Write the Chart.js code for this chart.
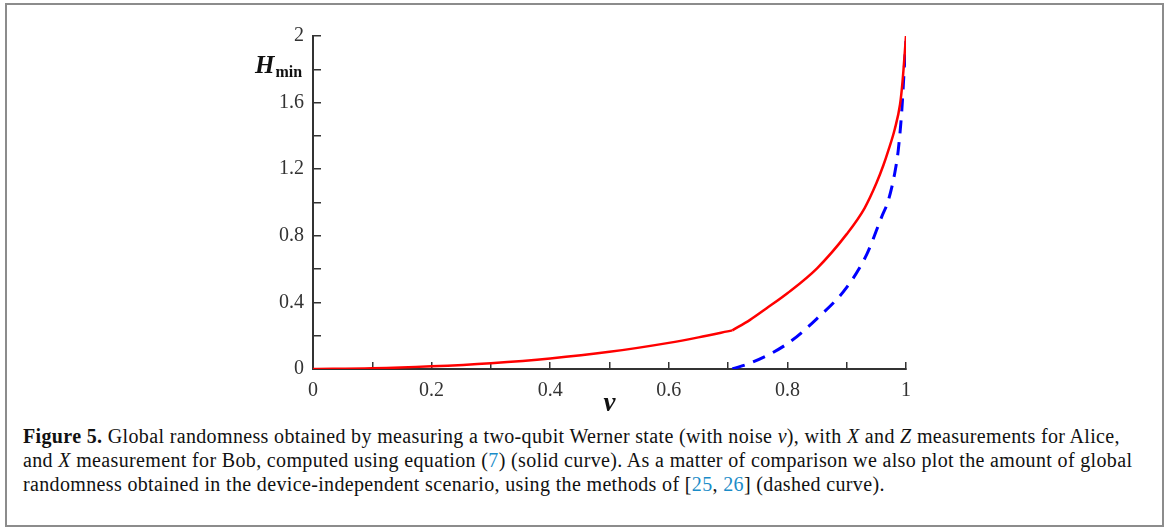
<!DOCTYPE html>
<html>
<head>
<meta charset="utf-8">
<script src="https://cdn.jsdelivr.net/npm/chart.js@4.4.1/dist/chart.umd.min.js"></script>
<style>
  html, body { margin: 0; padding: 0; background: #fff; }
  body { width: 1168px; height: 528px; position: relative; overflow: hidden; }
  #frame { position: absolute; left: 5px; top: 3px; width: 1155px; height: 520px; border: 2px solid #8c8c8c; }
  #wrap { position: absolute; left: 0; top: 0; width: 1168px; height: 420px; }
  #caption { position: absolute; left: 23px; top: 424px; font-family: "Liberation Serif", serif; font-size: 20px; letter-spacing: 0.35px; line-height: 24px; color: #111; white-space: nowrap; }
  #caption b { font-weight: bold; }
  #caption i { font-style: italic; }
  #caption .ref { color: #1a8cc8; }
</style>
</head>
<body>
<div id="frame"></div>
<div id="wrap"><canvas id="c" width="1168" height="420"></canvas></div>
<div id="caption">
<b>Figure 5.</b> Global randomness obtained by measuring a two-qubit Werner state (with noise <i>v</i>), with <i>X</i> and <i>Z</i> measurements for Alice,<br>
and <i>X</i> measurement for Bob, computed using equation (<span class="ref">7</span>) (solid curve). As a matter of comparison we also plot the amount of global<br>
randomness obtained in the device-independent scenario, using the methods of [<span class="ref">25</span>, <span class="ref">26</span>] (dashed curve).
</div>
<script>
// ---- data ----
// solid curve, below the kink at v = 1/sqrt(2)
const vSolidLow = [0, 0.1, 0.2, 0.3, 0.4, 0.5, 0.6, 0.65, 0.7071];
const hSolidLow = [0, 0.004, 0.016, 0.035, 0.063, 0.103, 0.157, 0.19, 0.232];
// solid curve, above the kink
const vSolidHigh = [0.7071, 0.737, 0.765, 0.8, 0.85, 0.9, 0.93, 0.95, 0.962, 0.97, 0.981, 0.99, 0.994, 1];
const hSolidHigh = [0.232, 0.295, 0.365, 0.455, 0.605, 0.81, 0.965, 1.115, 1.225, 1.31, 1.44, 1.59, 1.72, 2.0];
// dashed curve
const vDashed = [0.7071, 0.737, 0.8, 0.849, 0.9, 0.934, 0.959, 0.97, 0.981, 0.987, 0.993, 0.997, 1];
const hDashed = [0, 0.035, 0.152, 0.30, 0.49, 0.69, 0.914, 1.01, 1.176, 1.316, 1.557, 1.80, 1.97];
const xTickLabels = { 0: '0', 2: '0.2', 4: '0.4', 6: '0.6', 8: '0.8', 10: '1' };
const yTickLabels = { 0: '0', 4: '0.4', 8: '0.8', 12: '1.2', 16: '1.6', 20: '2' };

const toPts = (xs, ys) => xs.map((x, i) => ({ x: x, y: ys[i] }));
const tickFont = { family: '"Liberation Serif", serif', size: 20 };

const hminLabel = {
  id: 'hmin',
  afterDraw(chart) {
    const ys = chart.scales.y;
    const ctx = chart.ctx;
    const py = ys.getPixelForValue(1.8);
    ctx.save();
    ctx.fillStyle = '#111';
    ctx.textBaseline = 'middle';
    ctx.font = 'italic bold 25px "Liberation Serif", serif';
    ctx.textAlign = 'left';
    const hx = 255;
    ctx.fillText('H', hx, py - 3);
    const w = ctx.measureText('H').width;
    ctx.font = 'bold 16px "Liberation Serif", serif';
    ctx.fillText('min', hx + w + 1, py + 4);
    ctx.restore();
  }
};

const lineStyle = { showLine: true, pointRadius: 0, fill: false, cubicInterpolationMode: 'monotone' };

new Chart(document.getElementById('c'), {
  type: 'scatter',
  data: {
    datasets: [
      Object.assign({ data: toPts(vSolidLow, hSolidLow), borderColor: '#ff0000', borderWidth: 2.5 }, lineStyle),
      Object.assign({ data: toPts(vSolidHigh, hSolidHigh), borderColor: '#ff0000', borderWidth: 2.5 }, lineStyle),
      Object.assign({ data: toPts(vDashed, hDashed), borderColor: '#0000ff', borderWidth: 3, borderDash: [13, 9] }, lineStyle)
    ]
  },
  options: {
    responsive: false,
    animation: false,
    layout: { padding: { left: 0, top: 36, right: 262, bottom: 0 } },
    plugins: { legend: { display: false }, tooltip: { enabled: false } },
    scales: {
      x: {
        type: 'linear', min: 0, max: 1,
        afterFit(s) { s.height = 51; },
        grid: { drawOnChartArea: false, drawTicks: true, tickLength: -7, color: '#333', lineWidth: 1.5 },
        border: { display: true, color: '#333', width: 2 },
        ticks: {
          stepSize: 0.1, padding: 17, color: '#333', font: tickFont, maxRotation: 0, autoSkip: false,
          callback(v) { const k = Math.round(v * 10); return xTickLabels[k] !== undefined ? xTickLabels[k] : ''; }
        },
        title: { display: true, text: 'v', font: { family: '"Liberation Serif", serif', size: 27, style: 'italic', weight: 'bold' }, color: '#111', padding: { top: -14, bottom: 0 } }
      },
      y: {
        type: 'linear', min: 0, max: 2,
        afterFit(s) { s.width = 313; },
        grid: { drawOnChartArea: false, drawTicks: true, tickLength: -8, color: '#333', lineWidth: 1.5 },
        border: { display: true, color: '#333', width: 2 },
        ticks: {
          stepSize: 0.2, padding: 17, color: '#333', font: tickFont, autoSkip: false,
          callback(v) { const k = Math.round(v * 10); return yTickLabels[k] !== undefined ? yTickLabels[k] : ''; }
        }
      }
    }
  },
  plugins: [hminLabel]
});
</script>
</body>
</html>
